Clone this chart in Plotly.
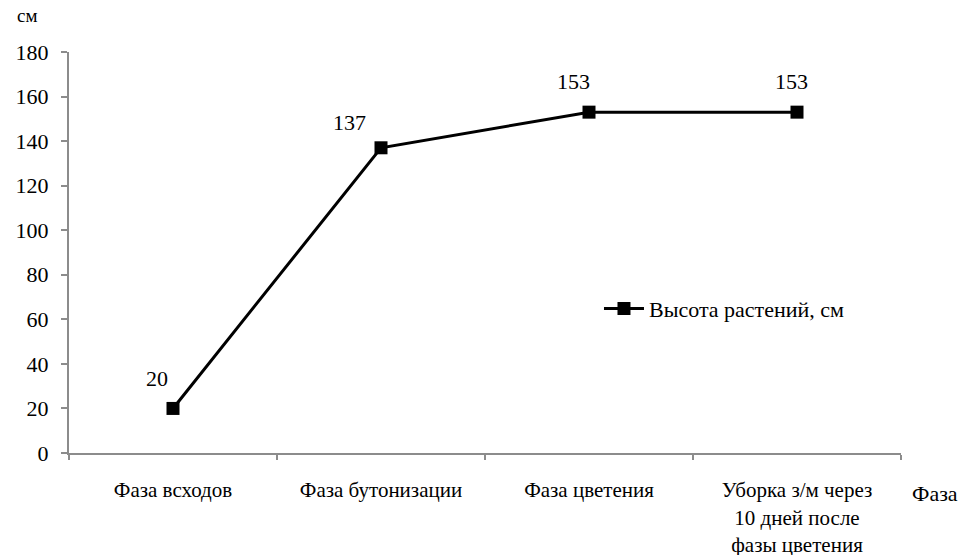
import plotly.graph_objs as go

# data
phases = ['Фаза всходов', 'Фаза бутонизации', 'Фаза цветения',
          'Уборка з/м через<br>10 дней после<br>фазы цветения']
height_cm = [20, 137, 153, 153]
label_dx = [-16, -32, -16, -6]
label_dy = [30, 25, 31, 31]

font = dict(family='"Liberation Serif", "Times New Roman", serif', size=22, color='black')
axis_color = '#8c8c8c'

fig = go.Figure()

fig.add_trace(go.Scatter(
    x=phases,
    y=height_cm,
    mode='lines+markers',
    name='Высота растений, см',
    line=dict(color='black', width=3),
    marker=dict(symbol='square', size=13, color='black'),
))

# value labels above points
for ph, v, dx, dy in zip(phases, height_cm, label_dx, label_dy):
    fig.add_annotation(x=ph, y=v, text=str(v), showarrow=False,
                       xshift=dx, yshift=dy, font=font)

fig.add_annotation(x=0, xref='paper', xanchor='center', xshift=-42,
                   y=1, yref='paper', yanchor='middle', yshift=37,
                   text='см', showarrow=False, font=dict(font, size=19))
fig.add_annotation(x=1, xref='paper', xanchor='left', xshift=9,
                   y=0, yref='paper', yanchor='middle', yshift=-40,
                   text='Фаза', showarrow=False, font=font)

fig.update_layout(
    width=969, height=555,
    margin=dict(l=69, r=68, t=52, b=102),
    paper_bgcolor='white', plot_bgcolor='white',
    font=font,
    showlegend=True,
    legend=dict(x=0.637, y=0.36, xanchor='left', yanchor='middle',
                bgcolor='rgba(0,0,0,0)', font=font, itemwidth=40),
    xaxis=dict(
        range=[-0.5, 3.5], automargin=False,
        showline=True, linecolor=axis_color, linewidth=2,
        ticks='outside', tickcolor=axis_color, ticklen=5, tickwidth=2,
        tickson='boundaries', showgrid=False, ticklabelstandoff=17,
        tickfont=dict(font, size=21),
    ),
    yaxis=dict(
        range=[0, 180], dtick=20, automargin=False,
        showline=True, linecolor=axis_color, linewidth=2,
        ticks='outside', tickcolor=axis_color, ticklen=6, tickwidth=2,
        showgrid=False, zeroline=False, ticklabelstandoff=8,
    ),
)

# drop the default 8px page margin so the figure sits at the window corner
fig.write_html("out.html", config={'displayModeBar': False},
               post_script="document.body.style.margin='0';")
